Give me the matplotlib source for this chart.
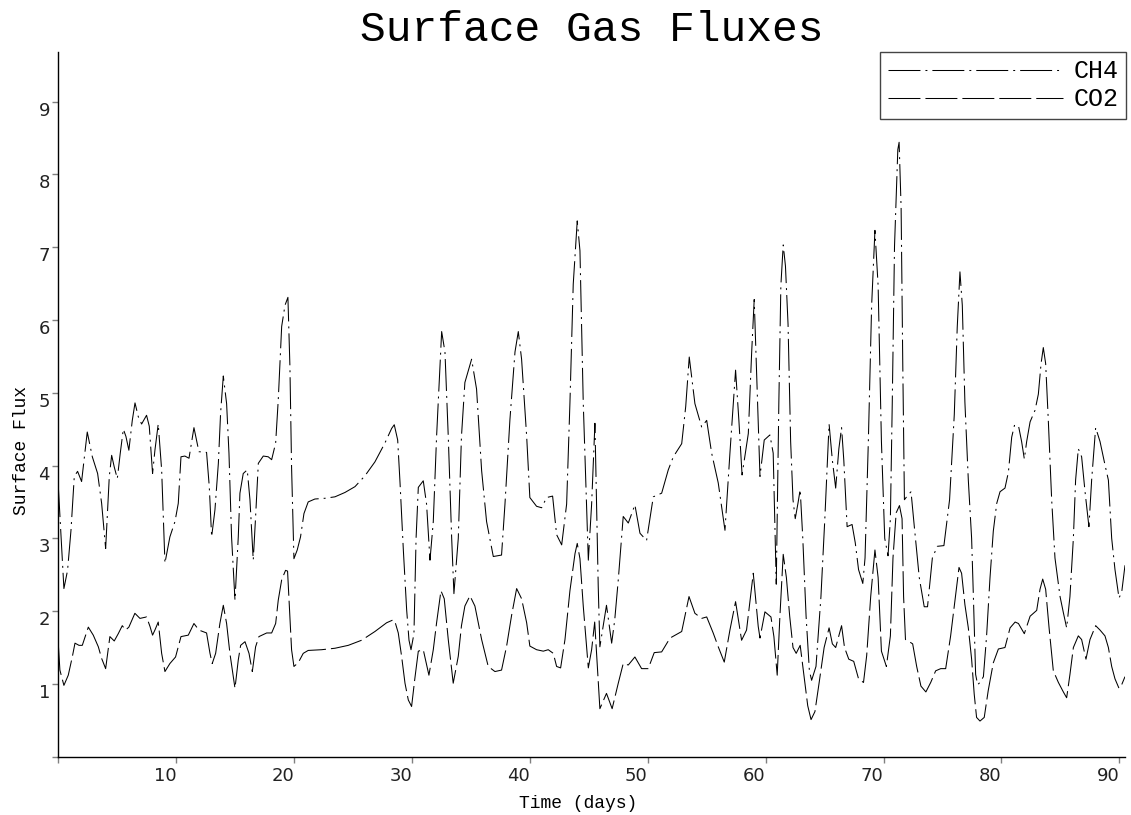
import matplotlib
matplotlib.use('Agg')
import matplotlib.pyplot as plt

# CH4 surface flux
ch4_days = [0.0, 0.48, 0.79, 1.08, 1.36, 1.64, 1.98, 2.46, 2.89, 3.34, 3.68, 4.02, 4.33, 4.53, 4.75,
            5.01, 5.26, 5.52, 5.74, 5.99, 6.28, 6.51, 6.79, 7.07, 7.49, 7.72, 8.0, 8.2, 8.48, 8.77,
            9.05, 9.47, 9.9, 10.18, 10.41, 10.74, 11.09, 11.51, 11.93, 12.58, 12.81, 13.01, 13.29,
            13.58, 13.77, 14.0, 14.28, 14.48, 14.7, 14.99, 15.27, 15.41, 15.69, 16.03, 16.26, 16.54,
            16.74, 16.97, 17.39, 17.81, 18.1, 18.44, 18.66, 18.95, 19.23, 19.48, 19.65, 19.79, 19.99,
            20.27, 20.55, 20.84, 21.2, 21.77, 22.62, 23.47, 24.32, 25.17, 26.02, 26.86, 27.71, 28.28,
            28.5, 28.79, 28.99, 29.27, 29.55, 29.75, 29.92, 30.17, 30.35, 30.54, 30.96, 31.24, 31.53,
            31.81, 32.09, 32.52, 32.8, 33.08, 33.37, 33.56, 33.93, 34.2, 34.49, 35.06, 35.48, 35.91,
            36.33, 36.9, 37.6, 37.89, 38.31, 38.74, 39.02, 39.3, 39.73, 40.0, 40.57, 41.0, 41.42,
            41.93, 42.27, 42.7, 43.12, 43.4, 43.68, 44.02, 44.25, 44.53, 44.96, 45.24, 45.52, 45.8,
            45.94, 46.5, 46.94, 47.2, 47.5, 47.92, 48.35, 48.91, 49.34, 49.9, 50.47, 51.18, 51.74,
            52.17, 52.88, 53.22, 53.52, 54.0, 54.57, 55.0, 55.42, 55.98, 56.55, 56.97, 57.45, 57.73,
            58.0, 58.53, 58.81, 59.03, 59.37, 59.52, 59.88, 60.36, 60.64, 60.9, 61.12, 61.29, 61.49,
            61.68, 61.9, 62.12, 62.32, 62.51, 62.74, 62.93, 63.15, 63.43, 63.71, 63.9, 64.27, 64.69,
            65.02, 65.24, 65.38, 65.66, 65.94, 66.21, 66.44, 66.63, 66.91, 67.33, 67.6, 67.88, 68.24,
            68.43, 68.71, 68.99, 69.27, 69.54, 69.82, 70.1, 70.38, 70.58, 70.74, 70.93, 71.21, 71.32,
            71.49, 71.63, 71.77, 72.05, 72.33, 72.61, 73.03, 73.45, 73.73, 74.14, 74.56, 75.12, 75.6,
            76.0, 76.25, 76.48, 76.68, 76.9, 77.19, 77.47, 77.62, 77.81, 77.98, 78.18, 78.47, 78.74,
            79.03, 79.31, 79.6, 79.88, 80.3, 80.59, 80.87, 81.1, 81.44, 81.71, 81.94, 82.14, 82.43,
            82.85, 83.13, 83.36, 83.55, 83.75, 83.98, 84.26, 84.54, 84.97, 85.25, 85.53, 85.81, 86.1,
            86.29, 86.52, 86.8, 87.09, 87.42, 87.65, 87.99, 88.36, 88.78, 89.07, 89.35, 89.63, 89.97,
            90.2, 90.48]
ch4_flux = [3.73, 2.31, 2.56, 3.11, 3.85, 3.92, 3.78, 4.46, 4.12, 3.89, 3.48, 2.86, 3.85, 4.14, 3.98,
            3.82, 4.17, 4.50, 4.40, 4.21, 4.62, 4.86, 4.67, 4.57, 4.69, 4.54, 3.89, 4.21, 4.57, 3.94,
            2.66, 3.02, 3.23, 3.48, 4.12, 4.13, 4.10, 4.52, 4.19, 4.18, 3.71, 3.02, 3.39,
            4.03, 4.72, 5.23, 4.85, 4.17, 3.02, 2.15, 3.02, 3.62, 3.89, 3.94, 3.53, 2.70,
            3.30, 4.03, 4.13, 4.12, 4.08, 4.31, 4.90, 5.91, 6.20, 6.31, 5.36, 3.98, 2.72,
            2.84, 3.02, 3.34, 3.50, 3.54, 3.55, 3.57, 3.63, 3.71, 3.86, 4.05, 4.31, 4.51,
            4.56, 4.35, 3.76, 2.84, 2.02, 1.60, 1.47, 1.69, 3.00, 3.70, 3.79, 3.47, 2.70,
            3.23, 4.40, 5.84, 5.56, 4.40, 3.00, 2.24, 3.00, 4.40, 5.14, 5.46, 5.05, 3.93,
            3.23, 2.75, 2.77, 3.47, 4.63, 5.56, 5.84, 5.46, 4.40, 3.56, 3.44, 3.42, 3.56,
            3.58, 3.05, 2.91, 3.47, 4.86, 6.49, 7.36, 6.95, 4.86, 2.70, 3.47, 4.58, 2.34,
            1.51, 2.08, 1.56, 1.88, 2.43, 3.30, 3.21, 3.46, 3.07, 2.97, 3.57, 3.62, 3.94,
            4.12, 4.30, 4.81, 5.49, 4.85, 4.53, 4.62, 4.17, 3.76, 3.11, 4.17, 5.31, 4.62,
            3.87, 4.44, 5.54, 6.28, 4.62, 3.85, 4.35, 4.42, 4.17, 2.37, 4.87, 6.47, 7.03,
            6.74, 5.94, 4.33, 3.53, 3.27, 3.48, 3.67, 3.00, 1.93, 1.18, 1.05, 1.24, 2.20,
            3.27, 4.07, 4.57, 4.07, 3.69, 4.23, 4.52, 4.07, 3.16, 3.19, 2.94, 2.57, 2.38,
            2.73, 4.33, 6.20, 7.23, 6.47, 4.33, 3.00, 2.76, 3.27, 4.87, 7.01, 8.34, 8.44,
            7.54, 5.40, 3.53, 3.59, 3.64, 3.16, 2.46, 2.06, 2.06, 2.73, 2.89, 2.90, 3.53,
            4.70, 5.90, 6.66, 6.20, 4.87, 3.80, 3.00, 2.20, 1.13, 0.99, 1.02, 1.10, 1.66,
            2.46, 3.10, 3.48, 3.64, 3.69, 3.91, 4.39, 4.55, 4.55, 4.33, 4.09, 4.33, 4.60,
            4.76, 4.98, 5.40, 5.62, 5.40, 4.60, 3.53, 2.73, 2.20, 1.98, 1.77, 2.20, 3.00,
            3.80, 4.23, 4.12, 3.64, 3.16, 3.80, 4.52, 4.33, 4.01, 3.80, 3.00, 2.57, 2.18,
            2.26, 2.63]

# CO2 surface flux
co2_days = [0.0, 0.14, 0.48, 0.85, 1.19, 1.42, 1.76, 2.04, 2.55, 2.97, 3.4, 3.68, 4.02, 4.38, 4.75,
            5.09, 5.43, 5.71, 5.99, 6.5, 6.93, 7.49, 7.78, 8.0, 8.2, 8.48, 8.77, 9.05, 9.47, 9.95,
            10.41, 11.03, 11.51, 11.93, 12.58, 12.87, 13.06, 13.35, 13.71, 14.0, 14.28, 14.56, 14.99,
            15.27, 15.47, 15.84, 16.18, 16.46, 16.74, 17.02, 17.68, 18.1, 18.44, 18.66, 18.95, 19.28,
            19.45, 19.65, 19.79, 19.99, 20.35, 20.78, 21.2, 22.34, 23.47, 24.6, 25.73, 26.86, 27.85,
            28.41, 28.55, 28.84, 29.13, 29.41, 29.69, 29.97, 30.25, 30.54, 30.96, 31.44, 31.81, 32.09,
            32.46, 32.74, 33.08, 33.5, 33.93, 34.2, 34.49, 34.92, 35.34, 35.91, 36.47, 37.04, 37.6,
            38.03, 38.45, 38.88, 39.3, 39.73, 40.0, 40.57, 41.14, 41.56, 41.99, 42.27, 42.61, 42.98,
            43.4, 43.83, 44.02, 44.25, 44.53, 44.96, 45.24, 45.5, 45.94, 46.5, 46.98, 47.5, 47.92,
            48.35, 48.91, 49.48, 50.04, 50.55, 51.18, 51.89, 52.88, 53.5, 54.0, 54.57, 55.0, 55.55,
            55.98, 56.49, 56.97, 57.45, 57.96, 58.38, 58.95, 59.37, 59.52, 59.94, 60.45, 60.7, 60.98,
            61.2, 61.49, 61.76, 62.04, 62.32, 62.59, 62.93, 63.24, 63.57, 63.85, 64.18, 64.54, 64.96,
            65.38, 65.66, 65.94, 66.44, 66.69, 67.05, 67.47, 67.88, 68.3, 68.57, 68.91, 69.27, 69.54,
            69.82, 70.24, 70.58, 70.8, 71.07, 71.35, 71.57, 71.7, 71.86, 72.19, 72.47, 72.81, 73.17,
            73.59, 74.0, 74.42, 74.85, 75.27, 75.69, 76.1, 76.4, 76.62, 76.9, 77.19, 77.47, 77.69,
            77.89, 78.18, 78.54, 78.88, 79.31, 79.74, 80.3, 80.73, 81.16, 81.44, 81.94, 82.43, 82.99,
            83.27, 83.5, 83.75, 84.04, 84.4, 84.83, 85.25, 85.53, 85.81, 86.1, 86.52, 86.8, 87.17,
            87.51, 87.99, 88.36, 88.78, 89.07, 89.35, 89.63, 89.97, 90.2, 90.48]
co2_flux = [1.56, 1.19, 0.98, 1.12, 1.37, 1.56, 1.53, 1.53, 1.78, 1.67, 1.51, 1.35, 1.21, 1.65, 1.59,
            1.69, 1.80, 1.74, 1.78, 1.97, 1.90, 1.92, 1.79, 1.67, 1.74, 1.85, 1.42, 1.17, 1.28, 1.37,
            1.65, 1.67, 1.83, 1.74, 1.70, 1.42, 1.28, 1.42, 1.83, 2.08, 1.83, 1.42, 0.94,
            1.33, 1.53, 1.58, 1.42, 1.17, 1.51, 1.65, 1.70, 1.70, 1.83, 2.15, 2.43, 2.56,
            2.55, 1.92, 1.47, 1.24, 1.29, 1.42, 1.46, 1.47, 1.49, 1.53, 1.60, 1.72, 1.84,
            1.88, 1.86, 1.70, 1.37, 1.01, 0.78, 0.69, 1.08, 1.45, 1.47, 1.12, 1.47, 1.84,
            2.28, 2.17, 1.61, 1.01, 1.38, 1.80, 2.07, 2.21, 2.07, 1.61, 1.24, 1.17, 1.19,
            1.52, 1.94, 2.31, 2.17, 1.84, 1.52, 1.47, 1.45, 1.47, 1.42, 1.24, 1.22, 1.61,
            2.28, 2.79, 2.93, 2.72, 2.07, 1.22, 1.47, 1.85, 0.66, 0.87, 0.66, 1.01, 1.28,
            1.26, 1.37, 1.21, 1.21, 1.43, 1.44, 1.63, 1.72, 2.20, 1.97, 1.90, 1.92, 1.70,
            1.51, 1.30, 1.74, 2.13, 1.60, 1.74, 2.52, 1.79, 1.63, 1.99, 1.92, 1.65, 1.12,
            1.90, 2.78, 2.46, 1.93, 1.50, 1.42, 1.53, 1.13, 0.70, 0.51, 0.62, 1.02, 1.50,
            1.77, 1.55, 1.50, 1.80, 1.50, 1.34, 1.31, 1.07, 1.02, 1.39, 2.20, 2.84, 2.46,
            1.45, 1.24, 1.66, 2.73, 3.35, 3.45, 3.27, 2.20, 1.61, 1.58, 1.55, 1.24, 0.97,
            0.89, 1.02, 1.18, 1.21, 1.21, 1.66, 2.20, 2.60, 2.52, 2.09, 1.77, 1.34, 0.86,
            0.54, 0.49, 0.54, 0.91, 1.29, 1.48, 1.50, 1.77, 1.85, 1.83, 1.69, 1.93, 2.01,
            2.30, 2.44, 2.30, 1.77, 1.18, 1.02, 0.89, 0.81, 1.13, 1.50, 1.66, 1.61, 1.34,
            1.61, 1.80, 1.74, 1.66, 1.50, 1.24, 1.07, 0.94, 0.99, 1.10]

x_ticks = [0, 10, 20, 30, 40, 50, 60, 70, 80, 90]
y_ticks = [0, 1, 2, 3, 4, 5, 6, 7, 8, 9]

mono = 'Liberation Mono'
lw = 0.75

fig = plt.figure(figsize=(11.31, 8.15), dpi=100)
ax = fig.add_axes([0.0515, 0.0715, 0.9432, 0.8647])

# dash lengths are given in points for a 1pt line, so divide by lw
ax.plot(ch4_days, ch4_flux, color='black', lw=lw,
        dashes=(23 / lw, 3.6 / lw, 1.4 / lw, 3.6 / lw), label='CH4')
ax.plot(co2_days, co2_flux, color='black', lw=lw,
        dashes=(23 / lw, 3.6 / lw), label='CO2')

ax.set_xlim(0, 90.48)
ax.set_ylim(0, 9.68)

for s in ['top', 'right']:
    ax.spines[s].set_visible(False)
for s in ['left', 'bottom']:
    ax.spines[s].set_linewidth(1.0)
    ax.spines[s].set_color('black')

ax.set_xticks(x_ticks)
ax.set_xticklabels([''] + [str(v) for v in x_ticks[1:]], ha='right')
ax.set_yticks(y_ticks)
ax.set_yticklabels([''] + [str(v) for v in y_ticks[1:]], va='top')
ax.tick_params(axis='both', direction='out', length=4.5, width=1, color='#808080',
               labelsize=13, labelcolor='#222222')
ax.tick_params(axis='x', pad=3)
ax.tick_params(axis='y', pad=1.5)

ax.set_xlabel('Time (days)', family=mono, fontsize=13, va='center')
ax.xaxis.set_label_coords(0.487, -0.066)
ax.set_ylabel('Surface Flux', family=mono, fontsize=13, va='center', ha='center')
ax.yaxis.set_label_coords(-0.034, 0.434)

fig.text(591.7 / 1131, 1 - 30 / 815, 'Surface Gas Fluxes', family=mono, fontsize=31,
         ha='center', va='center')

leg = ax.legend(loc='upper right', bbox_to_anchor=(1126 / 1131, 1 - 52 / 815),
                bbox_transform=fig.transFigure, prop={'family': mono, 'size': 18},
                handlelength=7.0, handletextpad=0.44, borderpad=0.3, labelspacing=0.15,
                borderaxespad=0, fancybox=False, framealpha=1, edgecolor='#444444')
leg.get_frame().set_linewidth(1.0)

plt.savefig('out.png', dpi=100)
